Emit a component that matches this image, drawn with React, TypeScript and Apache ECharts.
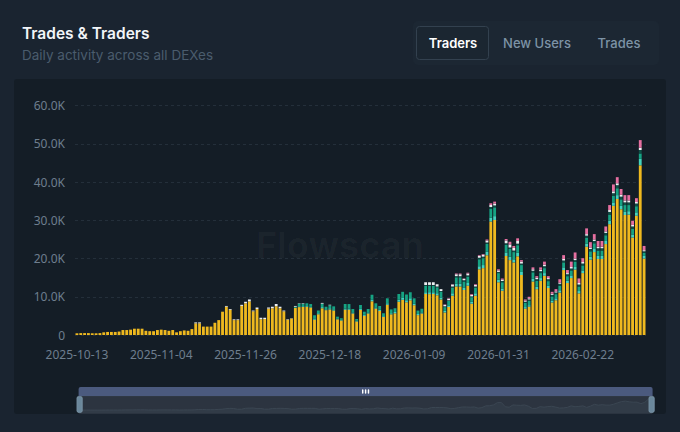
import React, { useEffect, useRef } from 'react';
import * as echarts from 'echarts';

const START_DATE = '2025-10-13';

const yellow = [
  450, 500, 500, 500, 450, 450, 500, 700, 800, 800,
  800, 900, 1300, 1300, 1400, 1650, 1650, 1650, 1100, 1000,
  1000, 1300, 1400, 1300, 1100, 1300, 700, 1000, 1200, 1100,
  1550, 3050, 3050, 2200, 2200, 2200, 3200, 3900, 6100, 7400,
  6600, 3900, 3900, 7600, 8300, 8800, 6200, 6800, 4100, 4200,
  6900, 7000, 7500, 7000, 6200, 4000, 4300, 7100, 7300, 7300,
  7400, 7200, 4000, 5400, 7000, 6500, 6700, 6400, 4100, 3800,
  6600, 6600, 5600, 3500, 6550, 5000, 5600, 8800, 6900, 6300,
  4700, 7900, 5400, 5700, 8700, 9200, 8600, 9100, 7800, 5200,
  5600, 10700, 10700, 10700, 10400, 9300, 5900, 7300, 10300, 12700,
  12700, 11800, 12900, 8200, 10300, 17200, 17500, 20900, 29700, 30100,
  13800, 11600, 20700, 19600, 19000, 20600, 15700, 6900, 7400, 14000,
  12000, 14200, 15500, 12300, 8500, 9100, 11100, 17000, 13600, 14900,
  17100, 10900, 16200, 23100, 19700, 21700, 19900, 19900, 23800, 29000,
  33800, 35600, 32900, 31400, 31500, 25500, 31200, 44400, 20000,
];

const cyan = [
  0, 0, 0, 0, 0, 0, 0, 0, 0, 0,
  0, 0, 0, 0, 0, 0, 0, 0, 0, 0,
  0, 0, 0, 0, 0, 0, 0, 0, 0, 0,
  0, 0, 0, 0, 0, 0, 0, 0, 0, 0,
  0, 0, 0, 0, 0, 0, 0, 0, 0, 0,
  0, 0, 0, 0, 0, 0, 0, 0, 200, 200,
  200, 200, 300, 300, 300, 200, 300, 300, 200, 200,
  300, 300, 300, 200, 300, 300, 300, 400, 300, 300,
  200, 400, 300, 300, 500, 500, 500, 500, 400, 300,
  300, 500, 500, 500, 500, 500, 400, 400, 600, 700,
  700, 600, 700, 500, 600, 800, 800, 900, 1000, 1000,
  700, 600, 900, 900, 800, 900, 800, 400, 400, 700,
  600, 700, 700, 600, 500, 500, 600, 700, 600, 700,
  700, 600, 700, 800, 800, 800, 800, 800, 800, 900,
  900, 1000, 900, 900, 900, 800, 900, 1700, 700,
];

const green = [
  0, 0, 0, 0, 0, 0, 0, 0, 0, 0,
  0, 0, 0, 0, 0, 0, 0, 0, 0, 0,
  0, 0, 0, 0, 0, 0, 0, 0, 0, 0,
  0, 0, 0, 0, 0, 0, 0, 0, 0, 0,
  0, 0, 0, 0, 0, 0, 0, 0, 0, 0,
  0, 0, 0, 0, 0, 0, 0, 300, 700, 700,
  700, 700, 900, 700, 900, 700, 800, 800, 500, 400,
  1200, 1200, 900, 500, 1000, 800, 900, 1300, 1100, 1000,
  800, 1300, 1000, 1000, 1500, 1600, 1500, 1600, 1400, 900,
  1000, 1700, 1700, 1700, 1600, 1500, 1000, 1200, 1500, 1700,
  1700, 1600, 1700, 1200, 1500, 1800, 1800, 2000, 2300, 2300,
  1700, 1600, 2000, 2000, 1900, 2000, 1800, 1100, 1200, 1700,
  1600, 1300, 1300, 1200, 1100, 1100, 1200, 1300, 1200, 1300,
  1300, 1200, 1300, 1500, 1400, 1500, 1400, 1400, 1500, 1600,
  1700, 1800, 1700, 1700, 1600, 1500, 1600, 1400, 800,
];

const dark = [
  0, 0, 0, 0, 0, 0, 0, 0, 0, 0,
  0, 0, 0, 0, 0, 0, 0, 0, 0, 0,
  0, 0, 0, 0, 0, 0, 0, 0, 0, 0,
  0, 0, 0, 0, 0, 0, 0, 0, 0, 0,
  0, 0, 0, 0, 0, 0, 0, 0, 0, 0,
  0, 0, 0, 0, 0, 0, 0, 0, 0, 0,
  0, 0, 0, 0, 0, 0, 0, 0, 0, 0,
  0, 0, 0, 0, 0, 0, 0, 0, 0, 0,
  0, 0, 0, 0, 0, 0, 0, 0, 0, 0,
  0, 200, 200, 200, 200, 200, 200, 200, 300, 300,
  300, 300, 300, 200, 300, 400, 400, 400, 500, 500,
  300, 300, 400, 400, 400, 400, 400, 300, 300, 400,
  400, 500, 500, 500, 400, 400, 500, 500, 500, 500,
  500, 500, 500, 600, 600, 600, 600, 600, 600, 700,
  700, 800, 700, 700, 700, 600, 700, 900, 400,
];

const white = [
  0, 0, 0, 0, 0, 0, 0, 0, 0, 0,
  0, 0, 0, 0, 0, 0, 0, 0, 0, 0,
  0, 0, 0, 0, 0, 0, 0, 0, 0, 0,
  0, 250, 250, 0, 0, 0, 0, 0, 0, 200,
  200, 200, 200, 300, 400, 500, 200, 400, 400, 300,
  300, 400, 600, 400, 200, 100, 100, 200, 100, 100,
  0, 0, 0, 0, 200, 0, 100, 0, 0, 0,
  0, 0, 0, 0, 0, 0, 0, 0, 0, 0,
  0, 0, 0, 0, 0, 0, 0, 0, 0, 0,
  0, 700, 700, 700, 600, 500, 400, 400, 500, 500,
  500, 400, 500, 400, 400, 500, 500, 500, 500, 500,
  400, 400, 700, 800, 700, 700, 500, 300, 300, 400,
  400, 400, 400, 300, 300, 300, 300, 400, 300, 400,
  400, 400, 400, 400, 400, 400, 400, 400, 400, 500,
  500, 500, 500, 500, 500, 400, 400, 600, 300,
];

const pink = [
  0, 0, 0, 0, 0, 0, 0, 0, 0, 0,
  0, 0, 0, 0, 0, 0, 0, 0, 0, 0,
  0, 0, 0, 0, 0, 0, 0, 0, 0, 0,
  0, 0, 0, 0, 0, 0, 0, 0, 0, 0,
  0, 0, 0, 0, 0, 0, 0, 0, 0, 0,
  0, 0, 0, 0, 0, 0, 0, 0, 0, 0,
  0, 0, 0, 0, 0, 0, 0, 0, 0, 0,
  0, 0, 0, 0, 0, 0, 0, 0, 0, 0,
  0, 0, 0, 0, 0, 0, 0, 0, 0, 0,
  0, 0, 0, 0, 0, 0, 100, 100, 100, 200,
  200, 100, 200, 200, 200, 200, 200, 300, 500, 500,
  300, 300, 400, 700, 500, 700, 400, 300, 400, 500,
  400, 600, 800, 500, 500, 600, 900, 1000, 800, 1400,
  1600, 1200, 1000, 1500, 1400, 1400, 1500, 1500, 1300, 1300,
  1800, 1600, 1500, 1400, 1400, 1100, 1000, 2000, 1100,
];

const SERIES_NAMES = ['Yellow', 'Cyan', 'Green', 'Dark', 'White', 'Pink'];
const SERIES_COLORS = ['#EFB91F', '#45D3BE', '#16A383', '#0E4F45', '#EDEFF2', '#E66FA0'];
const SERIES_DATA = [yellow, cyan, green, dark, white, pink];

const TABS = ['Traders', 'New Users', 'Trades'];

function buildDates(start: string, n: number): string[] {
  const [y, m, d] = start.split('-').map(Number);
  const t0 = Date.UTC(y, m - 1, d);
  const out: string[] = [];
  for (let i = 0; i < n; i++) {
    out.push(new Date(t0 + i * 86400000).toISOString().slice(0, 10));
  }
  return out;
}

export default function App() {
  const ref = useRef<HTMLDivElement>(null);
  useEffect(() => {
    document.body.style.margin = '0';
    const chart = echarts.init(ref.current!, null, { renderer: 'svg' });
    const dates = buildDates(START_DATE, yellow.length);
    const tabX = [453, 537, 619];
    const option: any = {
      animation: false,
      backgroundColor: '#1a2430',
      graphic: [
        { type: 'rect', z: -10, silent: true, shape: { x: 14, y: 79, width: 652, height: 335, r: 3 }, style: { fill: '#141d26' } },
        { type: 'rect', z: -10, silent: true, shape: { x: 413, y: 21, width: 246, height: 44, r: 5 }, style: { fill: '#1c2733' } },
        { type: 'rect', z: -9, silent: true, shape: { x: 416.5, y: 26.5, width: 72, height: 33, r: 3 }, style: { fill: '#1b2631', stroke: '#33414f', lineWidth: 1 } },
        ...TABS.map((t, i) => ({
          type: 'text', z: 10, x: tabX[i], y: 43,
          style: {
            text: t, fill: i === 0 ? '#ffffff' : '#7d93a6',
            font: (i === 0 ? '600 ' : '500 ') + '13px Inter', align: 'center', verticalAlign: 'middle',
          },
        })),
        { type: 'text', z: 10, x: 22, y: 33, style: { text: 'Trades & Traders', fill: '#f2f5f8', font: '600 15.5px Inter', verticalAlign: 'middle' } },
        { type: 'text', z: 10, x: 22, y: 55, style: { text: 'Daily activity across all DEXes', fill: '#4a5c6d', font: '400 13.5px Inter', verticalAlign: 'middle' } },
        { type: 'text', z: -5, silent: true, x: 340, y: 245, style: { text: 'Flowscan', fill: 'rgba(255,255,255,0.03)', font: '700 36px Inter', align: 'center', verticalAlign: 'middle' } },
      ],
      grid: { left: 75, right: 34, top: 105.7, bottom: 97, containLabel: false },
      xAxis: {
        type: 'category',
        data: dates,
        axisLine: { show: false },
        axisTick: { show: false },
        axisLabel: { interval: 21, color: '#6e7e8e', fontSize: 12, fontFamily: 'Noto Sans', margin: 13 },
      },
      yAxis: {
        type: 'value',
        min: 0,
        max: 60000,
        interval: 10000,
        axisLine: { show: false },
        axisTick: { show: false },
        axisLabel: {
          color: '#6e7e8e', fontSize: 12, fontFamily: 'Noto Sans', margin: 10,
          formatter: (v: number) => (v === 0 ? '0' : (v / 1000).toFixed(1) + 'K'),
        },
        splitLine: { lineStyle: { color: '#242f3a', type: [3, 3] } },
      },
      dataZoom: [
        {
          type: 'slider',
          xAxisIndex: 0,
          start: 0,
          end: 100,
          left: 75,
          right: 31,
          top: 387,
          height: 18,
          showDetail: false,
          brushSelect: true,
          backgroundColor: '#2a313b',
          borderColor: '#323d49',
          fillerColor: 'rgba(50,62,78,0.25)',
          handleIcon: 'path://M2,0h4a2,2,0,0,1,2,2v20a2,2,0,0,1-2,2h-4a2,2,0,0,1-2-2v-20a2,2,0,0,1,2-2z',
          handleSize: '85%',
          handleStyle: { color: '#6a879b', borderColor: '#7892a5' },
          moveHandleSize: 9,
          moveHandleStyle: { color: '#4b5a7e', opacity: 1 },
          dataBackground: { lineStyle: { color: '#3d4853', width: 1 }, areaStyle: { color: '#313a45', opacity: 1 } },
          selectedDataBackground: { lineStyle: { color: '#3d4853', width: 1 }, areaStyle: { color: '#313a45', opacity: 1 } },
        },
      ],
      series: SERIES_DATA.map((d, i) => ({
        name: SERIES_NAMES[i],
        type: 'bar',
        stack: 'total',
        data: d,
        barWidth: '74%',
        itemStyle: { color: SERIES_COLORS[i] },
      })),
    };
    chart.setOption(option);
    return () => chart.dispose();
  }, []);
  return <div ref={ref} style={{ position: 'fixed', left: 0, top: 0, width: 680, height: 432 }} />;
}
